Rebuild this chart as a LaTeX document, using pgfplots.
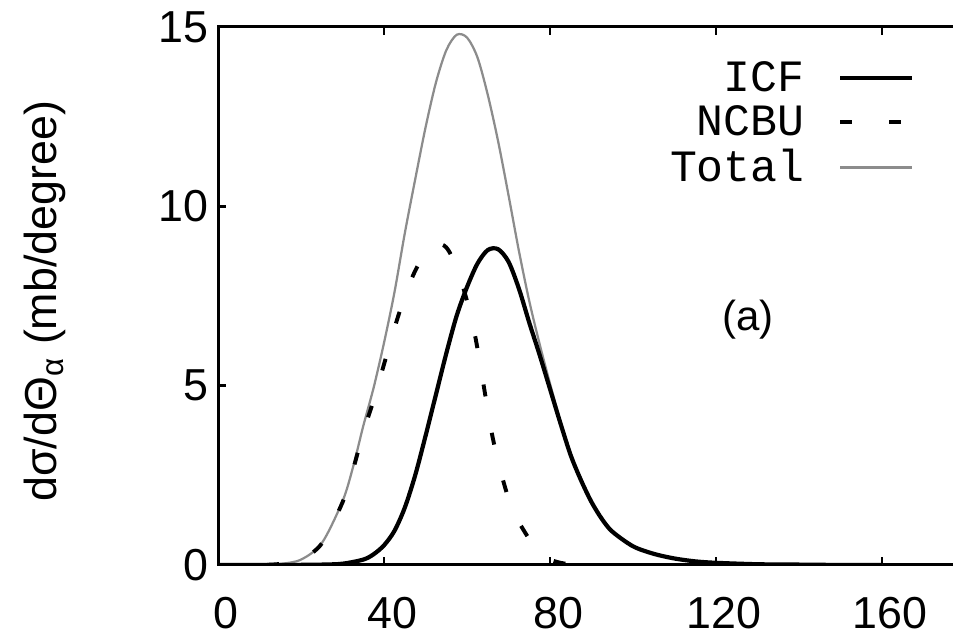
\documentclass[border=0pt]{standalone}
\usepackage{fontspec}
\setmainfont{Liberation Sans}
\newfontfamily\cour{Liberation Mono}
\usepackage{pgfplots}
\pgfplotsset{compat=1.18}
\usepackage{pgfplotstable}

\pgfplotstableread{
x y
0 0
10 0
20 0.003
25 0.01
30 0.035
35 0.15
37.5 0.3
40 0.55
42.5 0.95
45 1.6
47.5 2.5
50 3.6
52.5 4.75
55 5.9
57.5 6.95
60 7.75
62.5 8.4
65 8.78
67.5 8.8
70 8.45
72.5 7.7
75 6.75
77.5 5.85
80 4.9
82.5 3.95
85 3.05
87.5 2.35
90 1.75
92.5 1.28
95 0.93
100 0.52
105 0.31
110 0.18
115 0.1
120 0.06
130 0.02
140 0.01
150 0
160 0
}\icf

\pgfplotstableread{
x y
0 0
10 0
15 0.03
20 0.15
25 0.6
30 1.75
32.5 2.65
35 3.7
37.5 4.6
40 5.6
42.5 6.6
45 7.5
47.5 8.2
50 8.7
52.5 8.95
55 8.85
57.5 8.3
60 7.35
62 6.35
64 5.0
66 3.65
68 2.65
70 1.85
72 1.3
74 0.9
76 0.55
78 0.3
80 0.15
82.5 0.06
85 0.02
90 0
160 0
}\ncbu

\pgfplotstableread{
x y
0 0
10 0
15 0.03
20 0.15
25 0.61
30 1.78
32.5 2.72
35 3.88
37.5 4.95
40 6.2
42.5 7.6
45 9.25
47.5 10.75
50 12.2
52.5 13.45
55 14.35
57.5 14.78
60 14.7
62.5 14.15
65 13.1
67.5 11.8
70 10.3
72.5 8.75
75 7.35
77.5 6.15
80 5.05
82.5 4.01
85 3.07
87.5 2.35
90 1.75
92.5 1.28
95 0.93
100 0.52
105 0.31
110 0.18
115 0.1
120 0.06
130 0.02
140 0.01
150 0
160 0
}\total

\begin{document}
\begin{tikzpicture}
\begin{axis}[
  name=ax,
  scale only axis,
  width=266.8pt, height=192.2pt,
  xmin=0, xmax=180, ymin=0, ymax=15,
  xtick={0,40,80,120,160}, ytick={0,5,10,15},
  tick align=inside,
  major tick length=3pt,
  minor tick num=0,
  axis line style={line width=1.1pt},
  major tick style={black, line width=1pt},
  tick label style={font=\fontsize{16}{19}\selectfont},
  /pgf/number format/assume math mode=true,
  xticklabel style={inner sep=0pt, anchor=north, xshift=2.9pt, yshift=-11.2pt},
  ylabel={dσ/dΘ\textsubscript{α} (mb/degree)},
  ylabel style={at={(axis description cs:-0.2316,0.49)}, anchor=center, font=\fontsize{16}{19}\selectfont},
  legend plot pos=right,
  legend cell align=right,
  legend image code/.code={\draw[#1] (0pt,0pt) -- (25.7pt,0pt);},
  legend style={draw=none, fill=none, font=\cour\fontsize{16}{19}\selectfont,
    at={(rel axis cs:0.944,0.958)}, anchor=north east, row sep=-0.5pt, column sep=10pt},
]
\addplot[black!45, line width=0.8pt, smooth, forget plot] table {\total};
\addplot[black, line width=1.5pt, smooth] table {\icf};
\addlegendentry{ICF}
\addplot[black, line width=1.4pt, smooth, dash pattern=on 4.3pt off 13.2pt] table {\ncbu};
\addlegendentry{NCBU}
\addlegendimage{black!45, line width=0.8pt}
\addlegendentry{Total}
\node[font=\fontsize{15}{18}\selectfont] at (axis cs:127.7,6.83) {(a)};
\end{axis}
\pgfresetboundingbox
\path[use as bounding box] ([xshift=-77.9pt,yshift=-25pt]ax.south west) rectangle ([xshift=-4.3pt,yshift=9.6pt]ax.north east);
\end{tikzpicture}
\end{document}
